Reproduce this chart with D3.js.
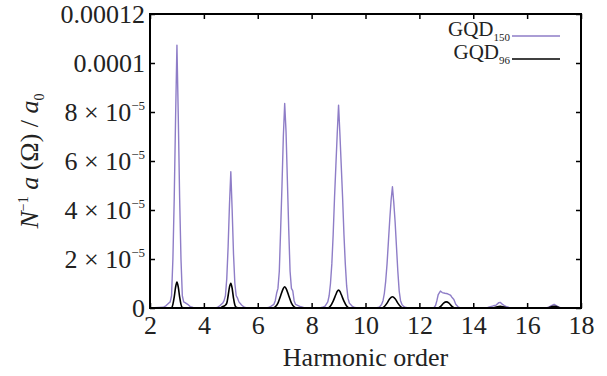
<!DOCTYPE html>
<html>
<head>
<meta charset="utf-8">
<script src="https://cdn.jsdelivr.net/npm/d3@7"></script>
<style>
  html, body { margin: 0; padding: 0; background: #fff; }
  svg { display: block; }
  svg text { font-family: "Liberation Serif", "Tinos", "Times New Roman", "Nimbus Roman", "DejaVu Serif", serif !important; fill: #222; }
</style>
</head>
<body>
<svg id="chart" width="607" height="376"></svg>
<script>
// Harmonic spectra, amplitudes in units of 1e-6
const gqd150Order = [2.0, 2.5, 2.6, 2.7, 2.75, 2.8, 2.85, 2.9, 2.95, 3.0, 3.05, 3.1, 3.15, 3.2, 3.25, 3.3, 3.4, 3.5, 3.6, 3.7,
  4.4, 4.5, 4.6, 4.7, 4.75, 4.8, 4.85, 4.9, 4.95, 5.0, 5.05, 5.1, 5.15, 5.2, 5.25, 5.3, 5.4, 5.5, 5.6,
  6.3, 6.4, 6.5, 6.6, 6.65, 6.7, 6.75, 6.8, 6.85, 6.9, 6.95, 7.0, 7.05, 7.1, 7.15, 7.2, 7.25, 7.3, 7.35, 7.4, 7.5, 7.6, 7.7, 7.8,
  8.3, 8.4, 8.5, 8.6, 8.65, 8.7, 8.75, 8.8, 8.85, 8.9, 8.95, 9.0, 9.05, 9.1, 9.15, 9.2, 9.25, 9.3, 9.35, 9.4, 9.5, 9.6, 9.7,
  10.4, 10.5, 10.55, 10.6, 10.65, 10.7, 10.75, 10.8, 10.85, 10.9, 10.95, 11.0, 11.05, 11.1, 11.15, 11.2, 11.25, 11.3, 11.35, 11.4, 11.5, 11.6,
  12.5, 12.55, 12.6, 12.65, 12.7, 12.78, 12.85, 12.95, 13.05, 13.15, 13.2, 13.28, 13.35, 13.45, 13.55,
  14.5, 14.6, 14.75, 14.85, 14.95, 15.0, 15.05, 15.15, 15.25, 15.35, 15.45,
  16.7, 16.8, 16.9, 17.0, 17.1, 17.2, 17.3, 18.0];
const gqd150Amp = [0, 0.3, 1.0, 2.0, 2.5, 5, 20, 45, 78, 107.3, 78, 45, 20, 5, 2.5, 2.2, 1.5, 0.5, 0.2, 0,
  0, 0.2, 1.0, 2.0, 3.0, 5, 12, 25, 42, 55.6, 40, 22, 10, 5, 4, 2.5, 1.2, 0.3, 0,
  0, 0.2, 0.8, 1.5, 3, 6, 8, 15, 32, 50, 70, 83.5, 72, 52, 32, 15, 8, 7, 3, 1.5, 1.0, 0.5, 0.2, 0,
  0, 0.3, 0.8, 2.5, 5, 10, 18, 30, 45, 58, 71, 82.8, 71, 58, 45, 30, 18, 9, 4, 2, 0.8, 0.2, 0,
  0, 0.3, 0.8, 1.5, 3, 6, 11, 18, 27, 36, 44, 49.5, 43, 35, 25, 15, 7, 3, 1.5, 0.8, 0.2, 0,
  0, 0.3, 1.0, 3, 5.5, 6.9, 6.3, 6.0, 5.8, 5.3, 4.5, 3.5, 1.5, 0.3, 0,
  0, 0.4, 0.9, 1.2, 2.2, 2.3, 1.8, 1.0, 0.5, 0.1, 0,
  0, 0.3, 1.0, 1.5, 0.9, 0.2, 0, 0];

const gqd96Order = [2.0, 2.8, 2.85, 2.9, 2.95, 3.0, 3.05, 3.1, 3.15, 3.2, 3.3,
  4.6, 4.7, 4.78, 4.85, 4.9, 4.95, 5.0, 5.05, 5.1, 5.15, 5.2, 5.3,
  6.55, 6.65, 6.75, 6.85, 6.95, 7.0, 7.05, 7.15, 7.25, 7.35, 7.45,
  8.6, 8.7, 8.8, 8.9, 8.95, 9.0, 9.05, 9.1, 9.2, 9.3, 9.4,
  10.6, 10.7, 10.8, 10.9, 11.0, 11.1, 11.2, 11.3, 11.4,
  12.7, 12.8, 12.9, 13.0, 13.1, 13.2, 13.3,
  14.7, 14.85, 15.0, 15.15, 15.3,
  16.75, 16.9, 17.0, 17.1, 17.25, 18.0];
const gqd96Amp = [0, 0, 1.5, 4.5, 8.5, 10.6, 8.5, 4.5, 1.5, 0.2, 0,
  0, 0.6, 1.0, 2, 5, 8.5, 10.1, 8, 4, 1.2, 0.3, 0,
  0, 0.5, 2, 5, 8, 8.7, 8, 5, 2, 0.5, 0,
  0, 0.8, 2.8, 5.5, 6.8, 7.3, 6.8, 5.5, 2.8, 0.8, 0,
  0, 0.6, 2.0, 3.8, 4.6, 3.8, 2.0, 0.6, 0,
  0, 0.8, 2.0, 2.5, 2.0, 0.8, 0,
  0, 0.4, 0.7, 0.4, 0,
  0, 0.5, 0.7, 0.5, 0, 0];

const xTicks = [2, 4, 6, 8, 10, 12, 14, 16, 18];
const yTicks = [0, 2e-5, 4e-5, 6e-5, 8e-5, 1e-4, 1.2e-4];
const yTickBase = ["0", "2 × 10", "4 × 10", "6 × 10", "8 × 10", "0.0001", "0.00012"];
const yTickExp = ["", "−5", "−5", "−5", "−5", "", ""];

const seriesNames = ["150", "96"];
const seriesColors = ["#8e7dc7", "#000000"];

const svg = d3.select("#chart");
const margin = { left: 150, right: 26, top: 14, bottom: 68 };
const W = 607, H = 376;
const iw = W - margin.left - margin.right;
const ih = H - margin.top - margin.bottom;

const x = d3.scaleLinear().domain([2, 18]).range([0, iw]);
const y = d3.scaleLinear().domain([0, 1.2e-4]).range([ih, 0]);

const g = svg.append("g").attr("transform", `translate(${margin.left},${margin.top})`);

svg.append("defs").append("clipPath").attr("id", "plotclip")
  .append("rect").attr("x", 0).attr("y", -2).attr("width", iw).attr("height", ih + 2);

const series = [
  d3.zip(gqd150Order, gqd150Amp).map(([h, a]) => ({ h, a: a * 1e-6 })),
  d3.zip(gqd96Order, gqd96Amp).map(([h, a]) => ({ h, a: a * 1e-6 }))
];

const plot = g.append("g").attr("clip-path", "url(#plotclip)");
const lineLin = d3.line().x(d => x(d.h)).y(d => y(d.a));
const lineSmooth = d3.line().x(d => x(d.h)).y(d => y(d.a)).curve(d3.curveMonotoneX);

plot.append("path").datum(series[0])
  .attr("d", lineLin).attr("fill", "none")
  .attr("stroke", seriesColors[0]).attr("stroke-width", 1.4).attr("stroke-linejoin", "round");
plot.append("path").datum(series[1])
  .attr("d", lineSmooth).attr("fill", "none")
  .attr("stroke", seriesColors[1]).attr("stroke-width", 1.6).attr("stroke-linejoin", "round");

// Axes with inward ticks on all four sides
const fs = 26;
const xAxis = g.append("g").attr("transform", `translate(0,${ih})`)
  .call(d3.axisBottom(x).tickValues(xTicks).tickSize(-5).tickSizeOuter(0).tickPadding(8).tickFormat(d3.format("d")));
g.append("g").call(d3.axisTop(x).tickValues(xTicks).tickSize(-5).tickSizeOuter(0).tickFormat(""));
const yAxis = g.append("g")
  .call(d3.axisLeft(y).tickValues(yTicks).tickSize(-5).tickSizeOuter(0).tickPadding(5).tickFormat(""));
g.append("g").attr("transform", `translate(${iw},0)`)
  .call(d3.axisRight(y).tickValues(yTicks).tickSize(-5).tickSizeOuter(0).tickFormat(""));

g.selectAll(".domain").remove();
g.selectAll(".tick line").attr("stroke", "#000").attr("stroke-width", 1.5);
xAxis.selectAll("text").attr("font-size", fs).attr("fill", "#222");

yAxis.selectAll(".tick text").each(function (d, i) {
  const t = d3.select(this).attr("font-size", fs).attr("fill", "#222").attr("dy", "0.34em");
  t.text(null);
  t.append("tspan").text(yTickBase[i]);
  if (yTickExp[i]) t.append("tspan").attr("font-size", 13).attr("dy", -11).text(yTickExp[i]);
});

// Frame
g.append("rect").attr("x", 0).attr("y", 0).attr("width", iw).attr("height", ih)
  .attr("fill", "none").attr("stroke", "#000").attr("stroke-width", 2);

// Axis titles
g.append("text").attr("x", iw / 2).attr("y", ih + 58)
  .attr("text-anchor", "middle").attr("font-size", fs).text("Harmonic order");

const yt = svg.append("text")
  .attr("transform", `translate(38,${margin.top + ih / 2}) rotate(-90)`)
  .attr("text-anchor", "middle").attr("font-size", fs);
yt.append("tspan").attr("font-style", "italic").text("N");
yt.append("tspan").attr("font-size", 14).attr("dy", -10).text("−1");
yt.append("tspan").attr("dy", 10).text(" ");
yt.append("tspan").attr("font-style", "italic").text("a");
yt.append("tspan").text(" (Ω) / ");
yt.append("tspan").attr("font-style", "italic").text("a");
yt.append("tspan").attr("font-size", 14).attr("dy", 6).text("0");

// Legend
const legY = [22, 45];
seriesNames.forEach((name, i) => {
  const lg = g.append("g").attr("transform", `translate(0,${legY[i]})`);
  const t = lg.append("text").attr("x", 360).attr("y", 0).attr("text-anchor", "end").attr("font-size", 21);
  t.append("tspan").text("GQD");
  t.append("tspan").attr("font-size", 11).attr("dy", 5).text(name);
  lg.append("line").attr("x1", 362).attr("x2", 410).attr("y1", 0).attr("y2", 0)
    .attr("stroke", seriesColors[i]).attr("stroke-width", 1.6);
});
</script>
</body>
</html>
